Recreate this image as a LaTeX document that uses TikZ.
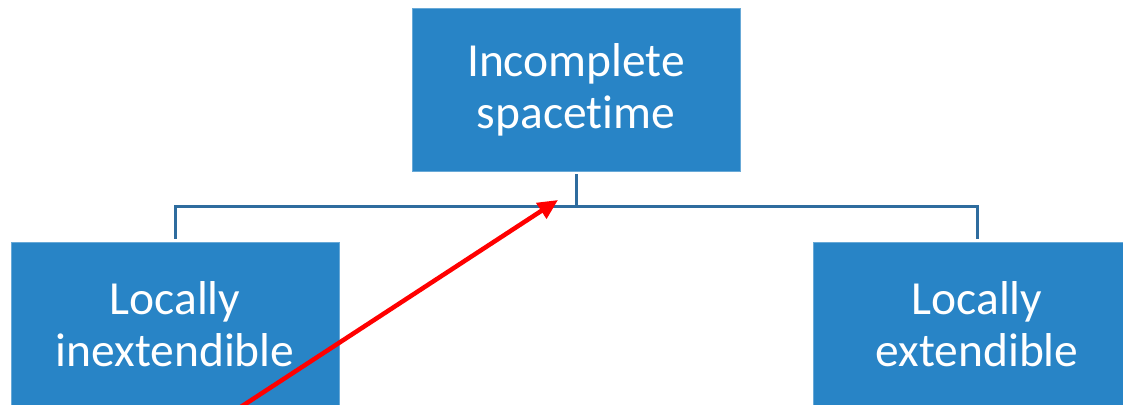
\documentclass[tikz,border=0pt]{standalone}
\usepackage{fontspec}
\setmainfont{Carlito}[Ligatures={NoCommon}]
\usetikzlibrary{arrows.meta}
\definecolor{boxblue}{RGB}{40,132,198}
\definecolor{linkblue}{RGB}{46,108,158}
\definecolor{pointer}{RGB}{255,0,0}
\tikzset{
  conceptbox/.style={fill=boxblue, draw=boxblue!70!white, line width=0.8pt,
    minimum width=328pt, minimum height=163pt, inner sep=0pt,
    text=white, align=center,
    font=\fontsize{47.5}{52}\selectfont},
  link/.style={draw=linkblue, line width=3pt},
  pointerarrow/.style={draw=pointer, line width=4.5pt,
    -{Triangle[length=20pt,width=18pt]}}
}
\begin{document}
\begin{tikzpicture}[x=1pt,y=-1pt]
  \useasboundingbox (0,0) rectangle (1123,404);
  \begin{scope}
    \clip (0,0) rectangle (1123,404);
    \node[conceptbox] (top) at (576,89.5) {Incomplete\\spacetime};
    \node[conceptbox] (left) at (175,324) {Locally\\inextendible};
    \node[conceptbox] (right) at (977,324) {Locally\\extendible};
    \coordinate (bus) at (576,206);
    \draw[link, shorten <=3pt] (top.south) -- (bus);
    \draw[link, shorten >=3pt] (bus) -| (left.north);
    \draw[link, shorten >=3pt] (bus) -| (right.north);
    \coordinate (tail) at (230,414);
    \coordinate (tip) at (558,200);
    \draw[pointerarrow] (tail) -- (tip);
  \end{scope}
\end{tikzpicture}
\end{document}
